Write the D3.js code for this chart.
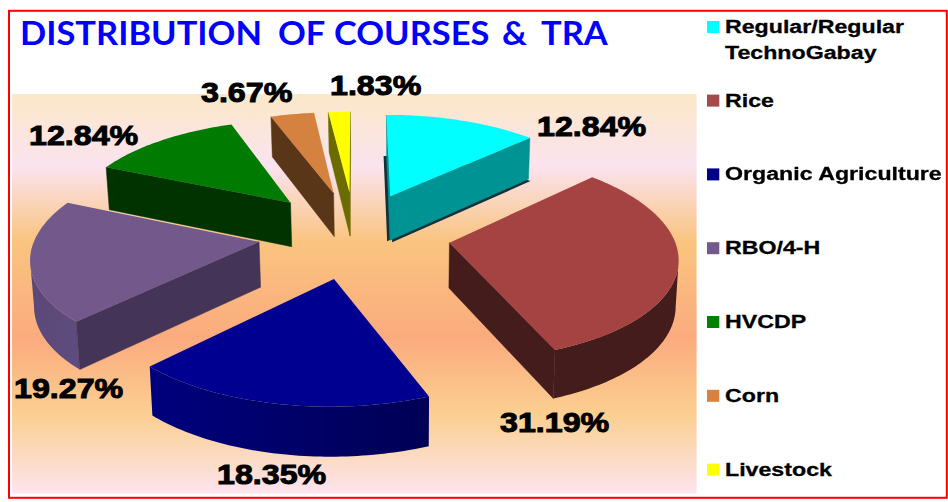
<!DOCTYPE html>
<html><head><meta charset="utf-8"><script src="https://cdn.jsdelivr.net/npm/d3@7"></script>
<style>html,body{margin:0;background:#fff;overflow:hidden}svg{display:block;filter:blur(.35px)}</style></head>
<body><svg id="chart" width="948" height="502"></svg>
<script>
const categories=["Regular/Regular\nTechnoGabay","Rice","Organic Agriculture","RBO/4-H","HVCDP","Corn","Livestock"];
const shares=[12.84,31.19,18.35,19.27,12.84,3.67,1.83];
const shareLabels=["12.84%","31.19%","18.35%","19.27%","12.84%","3.67%","1.83%"];
const titleWords=["DISTRIBUTION","OF","COURSES","&","TRA"];
const topColors=["#00ffff","#a54343","#000090","#72588b","#007a00","#d58240","#ffff00"];
const flatWallColors=["#009393","#441c1c","#000060","#443558","#003300","#5a3618","#6b6b00"];
const arcWallFrom=["#009393","#441c1c","#000055","#5f4c7e","#003300","#5a3618","#6b6b00"];
const arcWallTo=["#009393","#441c1c","#00007e","#5a4878","#003300","#5a3618","#6b6b00"];
const legendColors=["#00ffff","#a54a4a","#00008b","#735a8c","#008000","#d9823f","#ffff00"];
const explode=[.4216,.4295,.4383,.4317,.4392,.4372,.4321];
const labelAnchors=[[537,136],[500,432],[217,484],[14,398],[29,145],[201,102],[330,95]];
const titleWordX=[20,278,334,502,541];

const svg=d3.select("#chart");
const defs=svg.append("defs");
const grad=defs.append("linearGradient").attr("id","bg").attr("x1",0).attr("x2",0).attr("y1",0).attr("y2",1);
[[0,"#fbe8c9"],[.18,"#fbe3ef"],[.37,"#fac47f"],[.61,"#fbab7e"],[.80,"#fbcf90"],[1,"#fde4ee"]]
 .forEach(([o,c])=>grad.append("stop").attr("offset",o).attr("stop-color",c));

svg.append("rect").attr("x",9).attr("y",10.8).attr("width",937.8).attr("height",487).attr("fill","#fff").attr("stroke","#ff0000").attr("stroke-width",2);
svg.append("rect").attr("x",12).attr("y",94).attr("width",684.6).attr("height",399.6).attr("fill","url(#bg)");

const title=svg.append("text").attr("font-family","Lato").attr("font-weight",700).attr("font-size",32).attr("fill","#0000ff");
const firstWord=title.append("tspan").text(titleWords[0]);
const titleScale=242/firstWord.node().getComputedTextLength();
firstWord.attr("x",0);
titleWords.slice(1).forEach((w,i)=>title.append("tspan").attr("x",(titleWordX[i+1]-titleWordX[0])/titleScale).text(" "+w).attr("dx",0));
title.selectAll("tspan").filter((d,i)=>i>0).text((d,i)=>titleWords[i+1]);
title.attr("transform",`translate(${titleWordX[0]},45) scale(${titleScale},1)`);

// ground plane -> screen homography of the tilted pie
const H0=[223.26,43.42,354.73,-0.42,-71.43,233.56,0.00009,0.12211];
const project=(x,y)=>{const w=H0[6]*x+H0[7]*y+1;return[(H0[0]*x+H0[1]*y+H0[2])/w,(H0[3]*x+H0[4]*y+H0[5])/w];};
const extrude=(g)=>{const p=project(g[0],g[1]);const d=45-3.5*g[1];return[p[0]+(400-p[0])*.0107,p[1]+d];};
const line=d3.line();
const pie=d3.pie().sort(null)(shares);
const midOf=s=>(s.startAngle+s.endAngle)/2;
const drawOrder=d3.range(pie.length).sort((a,b)=>Math.cos(midOf(pie[b]))-Math.cos(midOf(pie[a])));

drawOrder.forEach(i=>{
 const s=pie[i],mid=midOf(s);
 const ox=explode[i]*Math.sin(mid),oy=explode[i]*Math.cos(mid);
 const n=Math.max(6,Math.ceil((s.endAngle-s.startAngle)/0.02));
 const arcG=d3.range(n+1).map(k=>{const t=s.startAngle+(s.endAngle-s.startAngle)*k/n;return[ox+Math.sin(t),oy+Math.cos(t)];});
 const ground=[[ox,oy],...arcG];
 const top=ground.map(g=>project(g[0],g[1]));
 const bottom=ground.map(extrude);
 const g=svg.append("g");
 if(i===0){ // dark cast edge behind the first slice
  [[-3,1],[2,2]].forEach(([dx,dy])=>g.append("path")
   .attr("d",line(bottom.map(p=>[p[0]+dx,p[1]+dy]))+"Z").attr("fill","#12303a"));
 }
 const m=ground.length;
 // curved outer wall: the run of arc segments that face the viewer
 const run=d3.range(1,m-1).filter(k=>top[k+1][0]<top[k][0]);
 if(run.length){
  const ks=[...run,run[run.length-1]+1];
  const gid="wall"+i;
  const wg=defs.append("linearGradient").attr("id",gid).attr("gradientUnits","userSpaceOnUse")
   .attr("x1",top[ks[0]][0]).attr("x2",top[ks[ks.length-1]][0]).attr("y1",0).attr("y2",0);
  wg.append("stop").attr("offset",0).attr("stop-color",arcWallFrom[i]);
  wg.append("stop").attr("offset",1).attr("stop-color",arcWallTo[i]);
  g.append("path").attr("d",line([...ks.map(k=>top[k]),...ks.slice().reverse().map(k=>bottom[k])])+"Z")
   .attr("fill",`url(#${gid})`);
 }
 // flat radial walls
 [[0,1],[m-1,0]].forEach(([a,b])=>{
  if(top[b][0]-top[a][0]>=0) return;
  g.append("path").attr("d",line([top[a],top[b],bottom[b],bottom[a]])+"Z")
   .attr("fill",flatWallColors[i]).attr("stroke",flatWallColors[i]).attr("stroke-width",.5);
 });
 g.append("path").attr("d",line(top)+"Z").attr("fill",topColors[i]);
});

shareLabels.forEach((t,i)=>{
 svg.append("text").attr("transform",`translate(${labelAnchors[i][0]},${labelAnchors[i][1]}) scale(1.15,1)`)
  .attr("font-family","Liberation Sans").attr("font-weight",700).attr("font-size",28)
  .attr("fill","#000").attr("stroke","#000").attr("stroke-width",1).text(t);
});

categories.forEach((c,i)=>{
 const y=i===0?33:106.6+73.8*(i-1);
 svg.append("rect").attr("x",707).attr("y",y-12).attr("width",12.3).attr("height",12).attr("fill",legendColors[i]);
 c.split("\n").forEach((t,k)=>{
  svg.append("text").attr("transform",`translate(725,${y+26*k}) scale(1.22,1)`)
   .attr("font-family","Liberation Sans").attr("font-weight",700).attr("font-size",19)
   .attr("fill","#000").attr("stroke","#000").attr("stroke-width",.3).text(t);
 });
});
</script></body></html>
